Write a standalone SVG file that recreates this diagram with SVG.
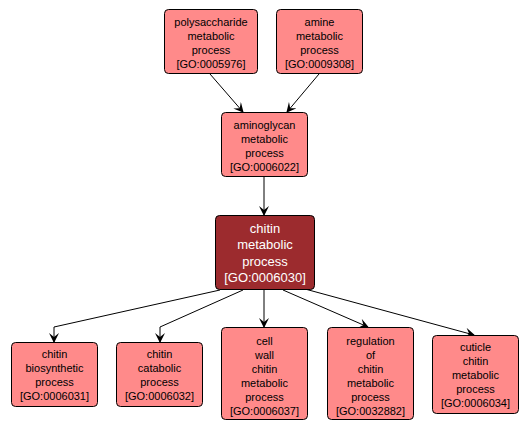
<svg xmlns="http://www.w3.org/2000/svg" width="531" height="431" viewBox="0 0 531 431">
<defs>
<style>
.n rect{fill:#ff8a8a;stroke:#000;stroke-width:1}
.n text{font-family:"Liberation Sans",Arial,sans-serif;font-size:11px;text-anchor:middle;fill:#000}
.d rect{fill:#9c2b2e;stroke:#000;stroke-width:1}
.d text{font-family:"Liberation Sans",Arial,sans-serif;font-size:13px;text-anchor:middle;fill:#fff}
.e{fill:none;stroke:#000;stroke-width:1;marker-end:url(#a)}
</style>
<marker id="a" viewBox="0 0 10 10" refX="9" refY="5" markerWidth="10" markerHeight="10" markerUnits="userSpaceOnUse" orient="auto">
<path d="M0,0 L10,5 L0,10 L4,5 Z" fill="#000"/>
</marker>
</defs>
<rect width="531" height="431" fill="#fff"/>
<g id="connectors">
<path class="e" d="M210,74 L243,112"/>
<path class="e" d="M319,74 L287,112"/>
<path class="e" d="M264,177 L264,215"/>
<path class="e" d="M220,290 L54,327 L54,342"/>
<path class="e" d="M243,290 L160,327 L160,342"/>
<path class="e" d="M264,290 L264,327"/>
<path class="e" d="M283,290 L368,327"/>
<path class="e" d="M305,289 L474,335"/>
</g>
<g id="GO0005976" class="n">
<rect x="164.5" y="9.5" width="93" height="64" rx="4"/>
<text x="211" y="25.5">polysaccharide</text>
<text x="211" y="39.5">metabolic</text>
<text x="211" y="53.5">process</text>
<text x="211" y="67.5">[GO:0005976]</text>
</g>
<g id="GO0009308" class="n">
<rect x="276.5" y="9.5" width="86" height="64" rx="4"/>
<text x="319.5" y="25.5">amine</text>
<text x="319.5" y="39.5">metabolic</text>
<text x="319.5" y="53.5">process</text>
<text x="319.5" y="67.5">[GO:0009308]</text>
</g>
<g id="GO0006022" class="n">
<rect x="221.5" y="112.5" width="86" height="64" rx="4"/>
<text x="264.5" y="128.5">aminoglycan</text>
<text x="264.5" y="142.5">metabolic</text>
<text x="264.5" y="156.5">process</text>
<text x="264.5" y="170.5">[GO:0006022]</text>
</g>
<g id="GO0006030" class="d">
<rect x="215.5" y="215.5" width="99" height="74" rx="4"/>
<text x="265" y="232.5">chitin</text>
<text x="265" y="249">metabolic</text>
<text x="265" y="265.5">process</text>
<text x="265" y="282">[GO:0006030]</text>
</g>
<g id="GO0006031" class="n">
<rect x="11.5" y="342.5" width="86" height="64" rx="4"/>
<text x="54.5" y="358">chitin</text>
<text x="54.5" y="372">biosynthetic</text>
<text x="54.5" y="386">process</text>
<text x="54.5" y="400">[GO:0006031]</text>
</g>
<g id="GO0006032" class="n">
<rect x="116.5" y="342.5" width="86" height="64" rx="4"/>
<text x="159.5" y="358">chitin</text>
<text x="159.5" y="372">catabolic</text>
<text x="159.5" y="386">process</text>
<text x="159.5" y="400">[GO:0006032]</text>
</g>
<g id="GO0006037" class="n">
<rect x="221.5" y="327.5" width="86" height="92" rx="4"/>
<text x="264.5" y="345">cell</text>
<text x="264.5" y="359">wall</text>
<text x="264.5" y="373">chitin</text>
<text x="264.5" y="387">metabolic</text>
<text x="264.5" y="401">process</text>
<text x="264.5" y="415">[GO:0006037]</text>
</g>
<g id="GO0032882" class="n">
<rect x="327.5" y="327.5" width="86" height="92" rx="4"/>
<text x="370.5" y="345">regulation</text>
<text x="370.5" y="359">of</text>
<text x="370.5" y="373">chitin</text>
<text x="370.5" y="387">metabolic</text>
<text x="370.5" y="401">process</text>
<text x="370.5" y="415">[GO:0032882]</text>
</g>
<g id="GO0006034" class="n">
<rect x="432.5" y="335.5" width="86" height="78" rx="4"/>
<text x="475.5" y="351">cuticle</text>
<text x="475.5" y="365">chitin</text>
<text x="475.5" y="379">metabolic</text>
<text x="475.5" y="393">process</text>
<text x="475.5" y="407">[GO:0006034]</text>
</g>
</svg>
